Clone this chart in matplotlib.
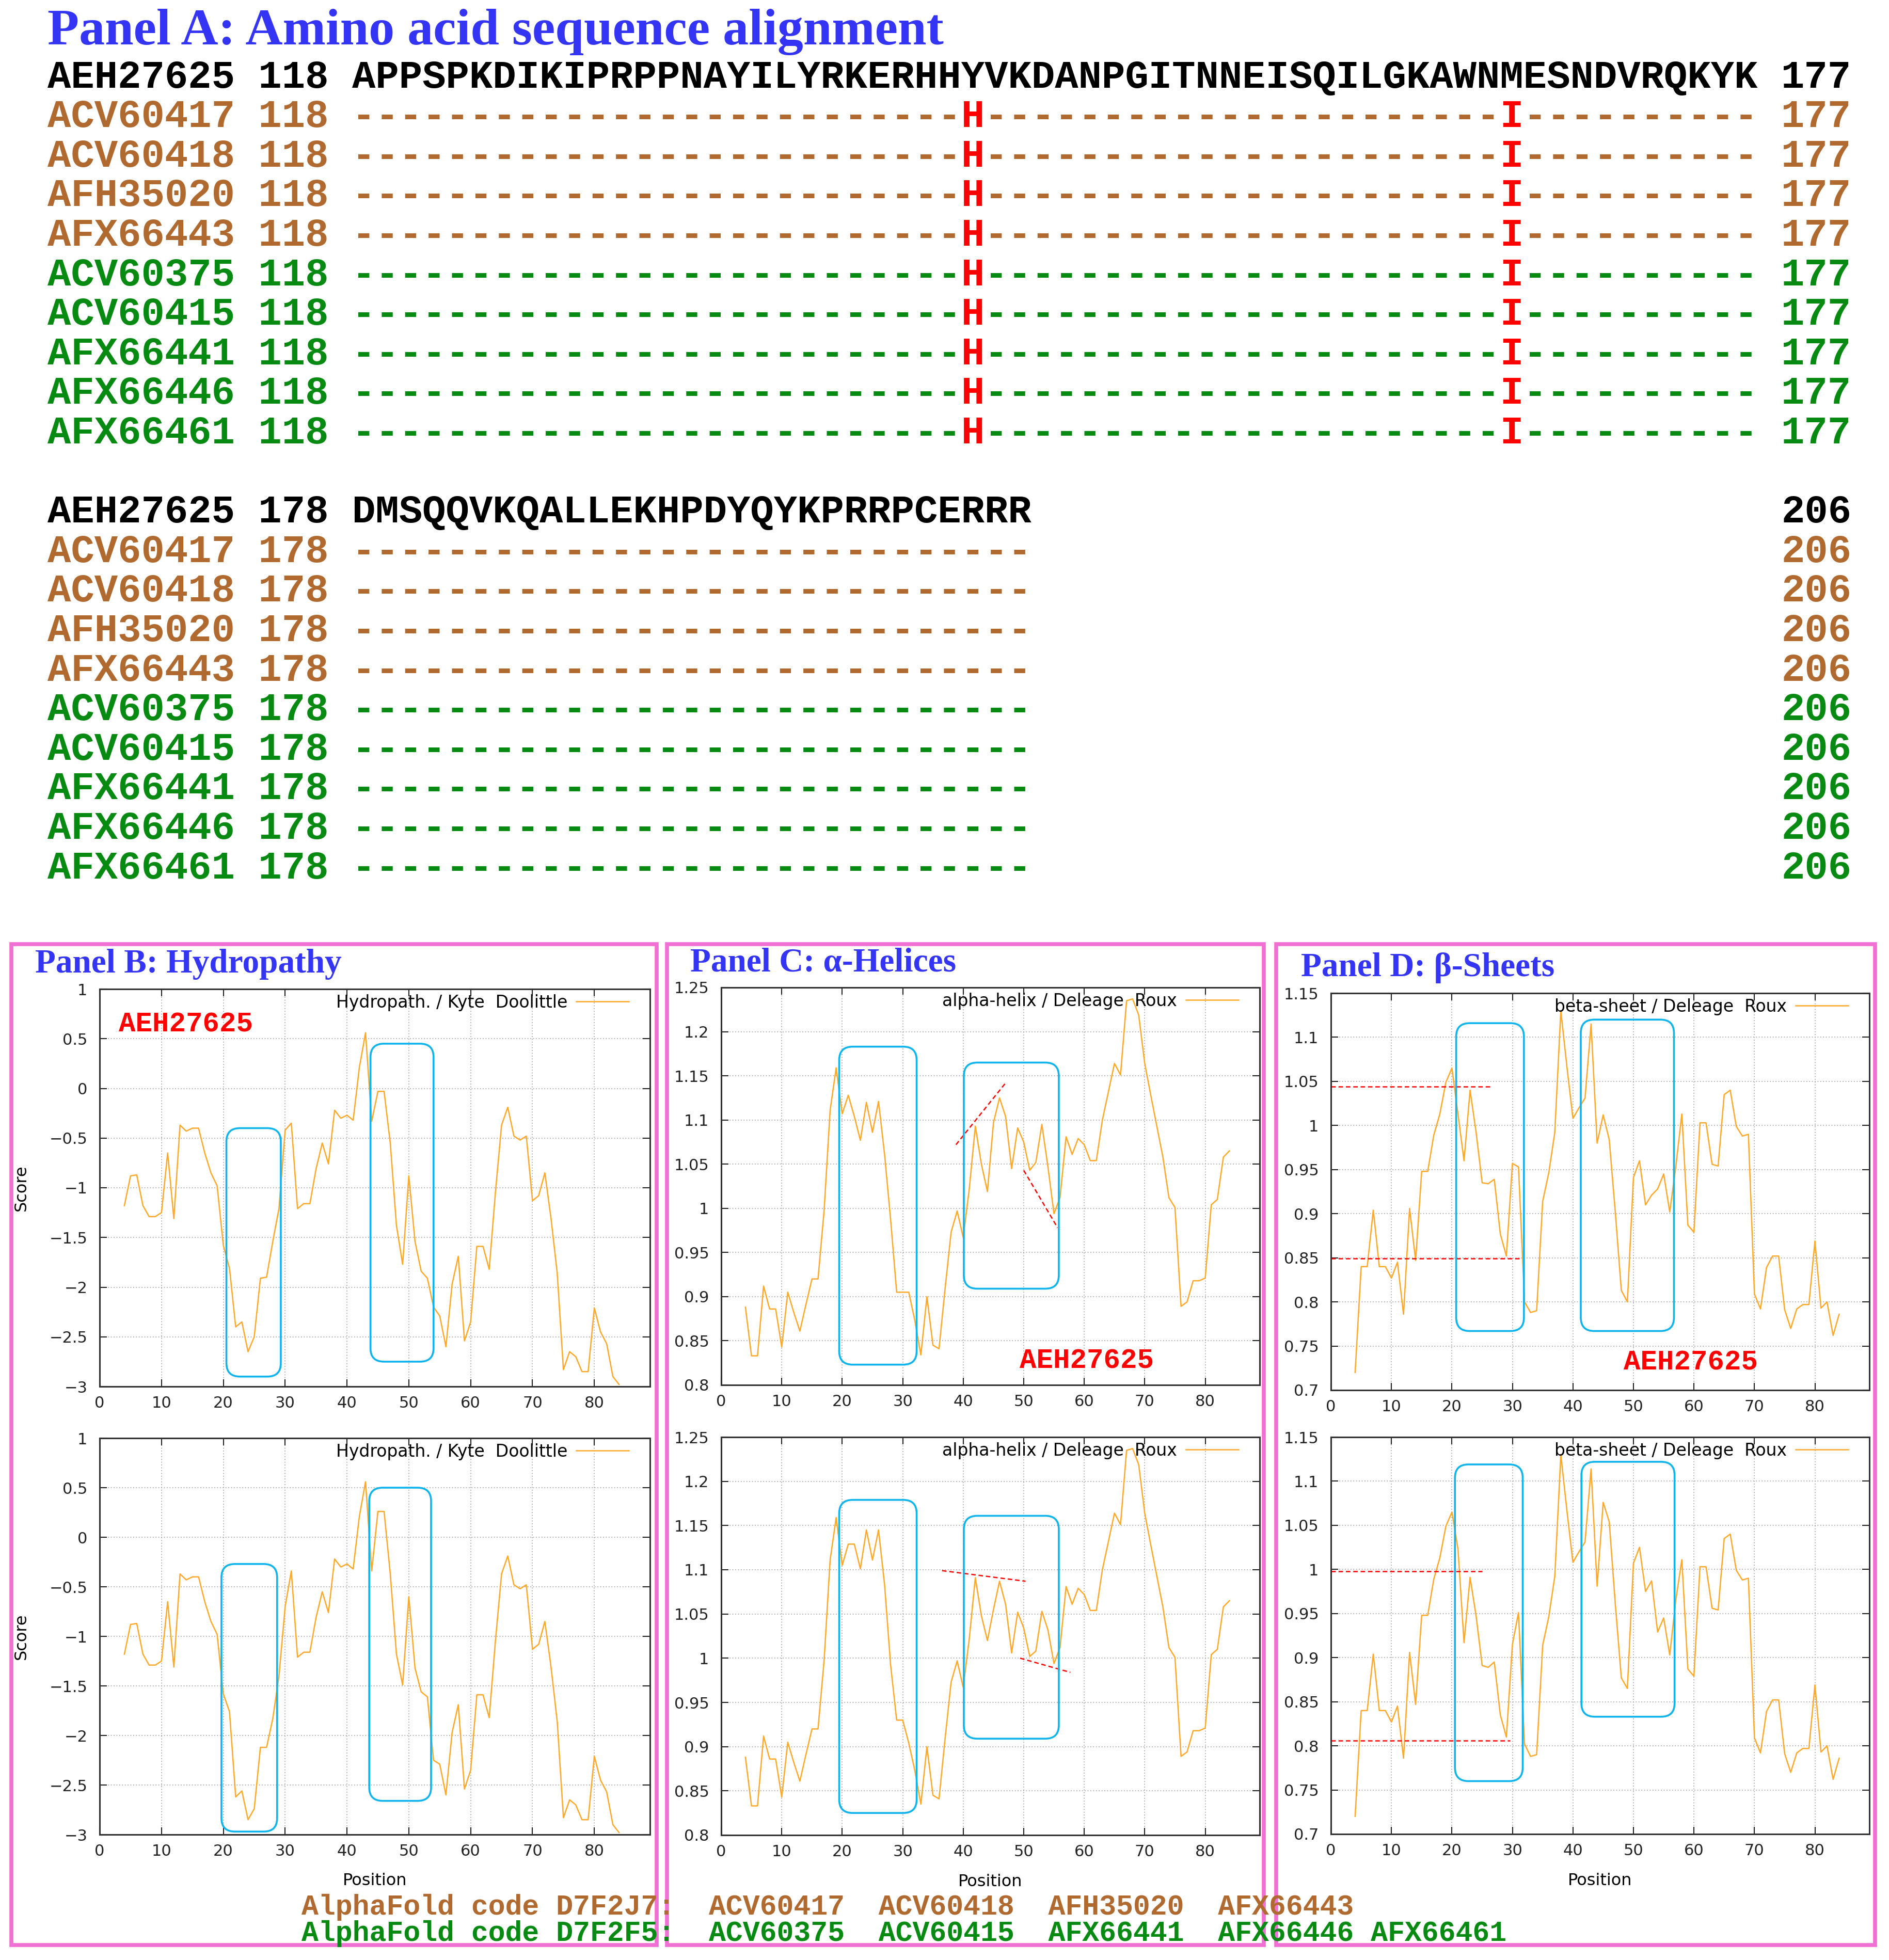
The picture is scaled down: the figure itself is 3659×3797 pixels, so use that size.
import numpy as np
import matplotlib
matplotlib.use("Agg")
import matplotlib.pyplot as plt
from matplotlib.patches import FancyBboxPatch, Rectangle
from matplotlib.ticker import FuncFormatter

# ---- alignment data ----
ref_name = "AEH27625"
names = ["AEH27625", "ACV60417", "ACV60418", "AFH35020", "AFX66443",
         "ACV60375", "ACV60415", "AFX66441", "AFX66446", "AFX66461"]
groups = ["ref", "J7", "J7", "J7", "J7", "F5", "F5", "F5", "F5", "F5"]
seq_blocks = ["APPSPKDIKIPRPPNAYILYRKERHHYVKDANPGITNNEISQILGKAWNMESNDVRQKYK",
              "DMSQQVKQALLEKHPDYQYKPRRPCERRR"]
block_start = [118, 178]
block_end = [177, 206]
variants = {144: "H", 167: "I"}   # residue number -> substituted residue

# ---- profile data (positions 4..84) ----
positions = np.arange(4, 85)

hydro_top = [-1.18, -0.88, -0.87, -1.18, -1.29, -1.29, -1.25, -0.65, -1.31, -0.37,
             -0.43, -0.40, -0.40, -0.65, -0.85, -0.98, -1.58, -1.81, -2.40, -2.35,
             -2.65, -2.50, -1.91, -1.90, -1.54, -1.21, -0.42, -0.35, -1.21, -1.16,
             -1.16, -0.81, -0.55, -0.76, -0.22, -0.30, -0.27, -0.32, 0.21, 0.56,
             -0.33, -0.03, -0.03, -0.55, -1.38, -1.77, -0.88, -1.54, -1.84, -1.91,
             -2.20, -2.29, -2.60, -1.97, -1.69, -2.54, -2.35, -1.59, -1.59, -1.82,
             -1.05, -0.37, -0.19, -0.48, -0.52, -0.48, -1.13, -1.08, -0.85, -1.31,
             -1.86, -2.83, -2.65, -2.70, -2.85, -2.85, -2.21, -2.45, -2.57, -2.90,
             -2.98]
hydro_bot = [-1.18, -0.88, -0.87, -1.18, -1.29, -1.29, -1.25, -0.65, -1.31, -0.37,
             -0.43, -0.40, -0.40, -0.65, -0.85, -0.98, -1.58, -1.76, -2.62, -2.56,
             -2.85, -2.74, -2.12, -2.12, -1.83, -1.40, -0.70, -0.34, -1.21, -1.16,
             -1.16, -0.81, -0.55, -0.76, -0.22, -0.30, -0.27, -0.32, 0.21, 0.56,
             -0.34, 0.26, 0.26, -0.37, -1.18, -1.49, -0.60, -1.32, -1.56, -1.61,
             -2.25, -2.29, -2.60, -1.97, -1.69, -2.54, -2.35, -1.59, -1.59, -1.82,
             -1.05, -0.37, -0.19, -0.48, -0.52, -0.48, -1.13, -1.08, -0.85, -1.31,
             -1.86, -2.83, -2.65, -2.70, -2.85, -2.85, -2.21, -2.45, -2.57, -2.90,
             -2.98]

alpha_top = [0.888, 0.833, 0.833, 0.912, 0.886, 0.886, 0.843, 0.905, 0.882, 0.861,
             0.891, 0.920, 0.920, 0.997, 1.111, 1.159, 1.107, 1.128, 1.104, 1.077,
             1.120, 1.086, 1.121, 1.061, 0.987, 0.905, 0.905, 0.905, 0.873, 0.834,
             0.900, 0.845, 0.841, 0.909, 0.973, 0.997, 0.967, 1.022, 1.093, 1.050,
             1.019, 1.097, 1.125, 1.104, 1.045, 1.091, 1.075, 1.043, 1.052, 1.095,
             1.047, 0.994, 1.012, 1.081, 1.061, 1.079, 1.072, 1.054, 1.054, 1.100,
             1.132, 1.164, 1.151, 1.235, 1.237, 1.219, 1.164, 1.128, 1.093, 1.058,
             1.012, 1.001, 0.889, 0.894, 0.918, 0.918, 0.921, 1.004, 1.010, 1.058,
             1.065]
alpha_bot = [0.888, 0.833, 0.833, 0.912, 0.886, 0.886, 0.843, 0.905, 0.882, 0.861,
             0.891, 0.920, 0.920, 0.997, 1.111, 1.159, 1.105, 1.129, 1.129, 1.101,
             1.145, 1.111, 1.145, 1.083, 0.992, 0.930, 0.930, 0.904, 0.873, 0.835,
             0.900, 0.845, 0.841, 0.909, 0.973, 0.997, 0.967, 1.022, 1.091, 1.048,
             1.020, 1.055, 1.087, 1.061, 1.006, 1.052, 1.034, 1.002, 1.008, 1.053,
             1.032, 0.994, 1.012, 1.081, 1.061, 1.079, 1.072, 1.054, 1.054, 1.100,
             1.132, 1.164, 1.151, 1.235, 1.237, 1.219, 1.164, 1.128, 1.093, 1.058,
             1.012, 1.001, 0.889, 0.894, 0.918, 0.918, 0.921, 1.004, 1.010, 1.058,
             1.065]

beta_top = [0.720, 0.840, 0.840, 0.904, 0.840, 0.840, 0.827, 0.845, 0.786, 0.906,
            0.847, 0.948, 0.948, 0.989, 1.013, 1.049, 1.065, 1.013, 0.960, 1.040,
            0.992, 0.935, 0.934, 0.939, 0.877, 0.852, 0.957, 0.953, 0.800, 0.788,
            0.790, 0.914, 0.946, 0.992, 1.130, 1.067, 1.008, 1.020, 1.031, 1.115,
            0.980, 1.012, 0.984, 0.902, 0.813, 0.800, 0.941, 0.960, 0.910, 0.921,
            0.928, 0.945, 0.902, 0.953, 1.013, 0.887, 0.879, 1.003, 1.003, 0.956,
            0.954, 1.035, 1.040, 0.999, 0.988, 0.990, 0.809, 0.792, 0.839, 0.852,
            0.852, 0.791, 0.770, 0.792, 0.797, 0.797, 0.869, 0.793, 0.800, 0.762,
            0.786]
beta_bot = [0.720, 0.840, 0.840, 0.904, 0.840, 0.840, 0.827, 0.845, 0.786, 0.906,
            0.847, 0.948, 0.948, 0.989, 1.013, 1.049, 1.065, 1.023, 0.917, 0.991,
            0.947, 0.891, 0.889, 0.895, 0.835, 0.810, 0.915, 0.951, 0.802, 0.788,
            0.790, 0.914, 0.946, 0.992, 1.130, 1.067, 1.008, 1.020, 1.031, 1.114,
            0.981, 1.076, 1.054, 0.961, 0.877, 0.865, 1.007, 1.025, 0.975, 0.987,
            0.929, 0.945, 0.903, 0.965, 1.011, 0.887, 0.879, 1.003, 1.003, 0.956,
            0.954, 1.035, 1.040, 0.999, 0.988, 0.990, 0.809, 0.792, 0.839, 0.852,
            0.852, 0.791, 0.770, 0.792, 0.797, 0.797, 0.869, 0.793, 0.800, 0.762,
            0.786]

# highlighted regions (x0, x1, y0, y1) per chart
boxes = {
    "hydro_top": [(20.5, 29.3, -2.9, -0.4), (43.8, 54.0, -2.75, 0.45)],
    "hydro_bot": [(19.7, 28.7, -2.97, -0.27), (43.6, 53.6, -2.66, 0.5)],
    "alpha_top": [(19.5, 32.3, 0.823, 1.183), (40.1, 55.8, 0.909, 1.165)],
    "alpha_bot": [(19.5, 32.3, 0.825, 1.179), (40.1, 55.8, 0.909, 1.161)],
    "beta_top": [(20.7, 31.9, 0.767, 1.116), (41.3, 56.7, 0.767, 1.120)],
    "beta_bot": [(20.5, 31.7, 0.760, 1.119), (41.4, 56.8, 0.833, 1.122)],
}
# red dashed trend marks ((x0, x1), (y0, y1))
trends = {
    "alpha_top": [((38.8, 46.9), (1.072, 1.141)), ((50.0, 55.6), (1.043, 0.978))],
    "alpha_bot": [((36.5, 50.3), (1.099, 1.087)), ((49.4, 57.7), (1.000, 0.984))],
    "beta_top": [((0, 26.3), (1.044, 1.044)), ((0, 31.3), (0.849, 0.849))],
    "beta_bot": [((0, 25.0), (0.998, 0.998)), ((0, 29.6), (0.806, 0.806))],
}

group_J7 = ["ACV60417", "ACV60418", "AFH35020", "AFX66443"]
group_F5 = ["ACV60375", "ACV60415", "AFX66441", "AFX66446", "AFX66461"]

# ---- style ----
W, H = 3659, 3797
BROWN = "#B06A30"
GREEN = "#078A12"
BLUE_T = "#3434F4"
PINK = "#F070D4"
CYAN = "#10B4EC"
ORANGE = "#FFA82A"
colors = {"ref": "black", "J7": BROWN, "F5": GREEN}

fig = plt.figure(figsize=(W / 100, H / 100), dpi=100)
bg = fig.add_axes([0, 0, 1, 1])
bg.set_xlim(0, W)
bg.set_ylim(H, 0)
bg.axis("off")

mono = dict(family="Liberation Mono", weight="bold")
serif = dict(family="Liberation Serif", weight="bold", color=BLUE_T)

# ---- Panel A ----
bg.text(92, 62, "Panel A: Amino acid sequence alignment", fontsize=72,
        ha="left", va="center", **serif)

pitch = 45.38
fs_seq = pitch / 0.6 * 0.72
x0 = 92
row_y0, row_dy = 150, 76.6


def put(col, y, s, color):
    bg.text(x0 + col * pitch, y, s, fontsize=fs_seq, color=color,
            ha="left", va="center", **mono)


for b, seq in enumerate(seq_blocks):
    for r, (nm, grp) in enumerate(zip(names, groups)):
        y = row_y0 + (b * 11 + r) * row_dy
        c = colors[grp]
        put(0, y, f"{nm} {block_start[b]}", c)
        if grp == "ref":
            put(13, y, seq, c)
        else:
            # split the row into runs of gap dashes and red substitutions
            run, run_col = "", 13
            for i in range(len(seq)):
                res = variants.get(block_start[b] + i)
                if res is None:
                    run += "-"
                    continue
                if run:
                    put(run_col, y, run, c)
                put(13 + i, y, res, "red")
                run, run_col = "", 13 + i + 1
            if run:
                put(run_col, y, run, c)
        put(74, y, str(block_end[b]), c)

bg.text(68, 1868, "Panel B: Hydropathy", fontsize=47, ha="left", va="center", **serif)
bg.text(1337, 1866, "Panel C: \u03b1-Helices", fontsize=47, ha="left", va="center", **serif)
bg.text(2520, 1875, "Panel D: \u03b2-Sheets", fontsize=47, ha="left", va="center", **serif)


def fmt(v, p):
    return ("%g" % round(v, 3)).replace("-", "\u2212")


charts = []


def chart(rect, y, key, ylim, ystep, legend, xlabel=False, ylabel=False):
    l, t, r, b = rect
    ax = fig.add_axes([l / W, 1 - b / H, (r - l) / W, (b - t) / H])
    ax.plot(positions, y, color=ORANGE, lw=1.8, label=legend)
    ax.set_xlim(0, 89)
    ax.set_ylim(*ylim)
    ax.set_xticks(range(0, 81, 10))
    ax.set_yticks(np.arange(ylim[0], ylim[1] + ystep / 2, ystep))
    ax.yaxis.set_major_formatter(FuncFormatter(fmt))
    ax.grid(True, color="#a8a8a8", linestyle=(0, (1, 2)), lw=1.3)
    ax.tick_params(direction="in", top=True, right=True, length=10, width=1.5,
                   labelsize=22, colors="#222222")
    ax.tick_params(axis="y", pad=17)
    ax.tick_params(axis="x", pad=13)
    for s in ax.spines.values():
        s.set_linewidth(2.2)
        s.set_color("#303030")
    ax.legend(loc="upper right", frameon=False, markerfirst=False, fontsize=23.8,
              handlelength=3.1, handletextpad=0.5, borderaxespad=0, borderpad=0,
              bbox_to_anchor=(1 - 41 / (r - l), 1 - 10 / (b - t)))
    if ylabel:
        ax.set_ylabel("Score", fontsize=23)
        ax.yaxis.set_label_coords(-0.128, 0.5)
    if xlabel:
        ax.set_xlabel("Position", fontsize=23)
        ax.xaxis.set_label_coords(0.5, -0.097)
    for (xs, ys) in trends.get(key, []):
        ax.plot(xs, ys, color="red", lw=1.8, ls=(0, (3.5, 2.2)))
    charts.append((ax, key))
    return ax


chart((193, 1916, 1259, 2686), hydro_top, "hydro_top", (-3, 1), 0.5,
      "Hydropath. / Kyte  Doolittle", ylabel=True)
chart((193, 2786, 1259, 3554), hydro_bot, "hydro_bot", (-3, 1), 0.5,
      "Hydropath. / Kyte  Doolittle", ylabel=True, xlabel=True)
chart((1397, 1913, 2440, 2683), alpha_top, "alpha_top", (0.8, 1.25), 0.05,
      "alpha-helix / Deleage  Roux")
chart((1397, 2784, 2440, 3555), alpha_bot, "alpha_bot", (0.8, 1.25), 0.05,
      "alpha-helix / Deleage  Roux", xlabel=True)
chart((2578, 1924, 3621, 2693), beta_top, "beta_top", (0.7, 1.15), 0.05,
      "beta-sheet / Deleage  Roux")
chart((2578, 2784, 3621, 3553), beta_bot, "beta_bot", (0.7, 1.15), 0.05,
      "beta-sheet / Deleage  Roux", xlabel=True)

# ---- overlay layer: frames, highlight boxes, labels ----
ov = fig.add_axes([0, 0, 1, 1], zorder=10)
ov.set_xlim(0, W)
ov.set_ylim(H, 0)
ov.axis("off")
ov.patch.set_alpha(0)

for (l, t, r, bt) in [(22, 1829, 1272, 3768), (1292, 1829, 2448, 3768), (2472, 1829, 3632, 3768)]:
    ov.add_patch(Rectangle((l, t), r - l, bt - t, fill=False, ec=PINK, lw=5.5))

for ax, key in charts:
    for (bx0, bx1, by0, by1) in boxes[key]:
        p0 = ov.transData.inverted().transform(ax.transData.transform((bx0, by0)))
        p1 = ov.transData.inverted().transform(ax.transData.transform((bx1, by1)))
        xa, xb = sorted([p0[0], p1[0]])
        ya, yb = sorted([p0[1], p1[1]])
        ov.add_patch(FancyBboxPatch((xa, ya), xb - xa, yb - ya,
                                    boxstyle="round,pad=0,rounding_size=26",
                                    fill=False, ec=CYAN, lw=2.6))

# sequence id marks inside the top charts
lab = dict(fontsize=39, color="red", ha="left", va="center", **mono)
ov.text(230, 1984, ref_name, **lab)
ov.text(1975, 2636, ref_name, **lab)
ov.text(3145, 2639, ref_name, **lab)

# AlphaFold group lines
line_J7 = "AlphaFold code D7F2J7:  " + "  ".join(group_J7)
line_F5 = "AlphaFold code D7F2F5:  " + "  ".join(group_F5[:4]) + " " + group_F5[4]
ov.text(584, 3695, line_J7, fontsize=39.5, color=BROWN, ha="left", va="center", **mono)
ov.text(584, 3746, line_F5, fontsize=39.5, color=GREEN, ha="left", va="center", **mono)

fig.savefig("out.png", dpi=100)
